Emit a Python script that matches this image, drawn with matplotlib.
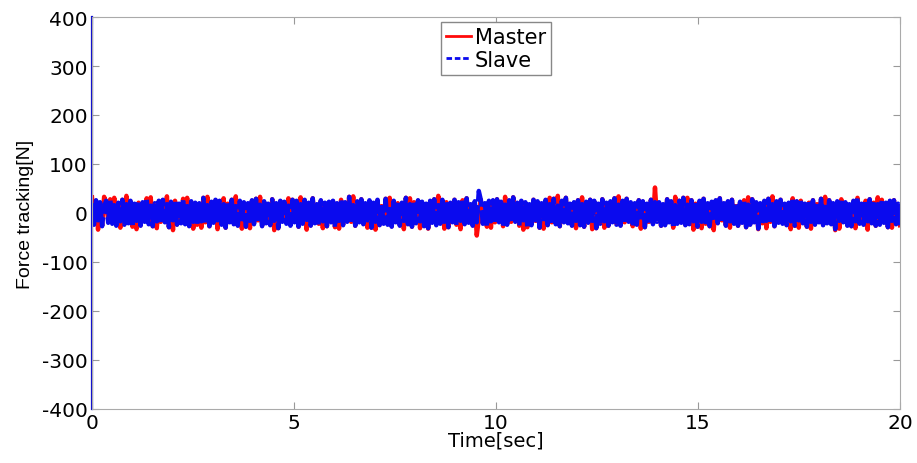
import numpy as np
import matplotlib
matplotlib.use('Agg')
from matplotlib import pyplot as plt

plt.rcParams['font.family'] = ['DejaVu Sans']
plt.rcParams['axes.unicode_minus'] = False

# Master force (N), sampled uniformly over 0..20 s
master = [
  32, -21, 25, -34, 17, -26, 33, 22, -15, 28, -19, 31, -24, 18, -30, 27, -22, 35, -17, 24,
  -28, 14, -33, 21, -25, 19, -13, 30, -20, 32, -27, 16, -31, 23, -18, 26, -14, 34, -29, 20,
  -35, 25, -23, 13, -16, 29, -21, 31, -26, 22, -32, 18, -24, 15, -30, 31, -19, 33, -27, 21,
  -17, 26, -33, 24, -22, 30, -30, 19, -14, 27, -20, 34, -25, 23, -32, 20, -28, 16, -31, 25,
  -21, 29, -15, 33, -26, 22, -18, 14, -23, 28, -35, 17, -31, 24, -13, 21, -19, 30, -24, 27,
  -16, 23, -28, 32, -20, 26, -34, 19, -25, 30, -17, 13, -22, 25, -31, 18, -27, 21, -14, 24,
  -29, 15, -32, 27, -23, 20, -12, 33, -18, 34, -26, 22, -15, 28, -21, 16, -30, 24, -30, 19,
  -34, 26, -24, 14, -19, 29, -22, 31, -27, 23, -13, 20, -25, 17, -33, 31, -20, 30, -28, 22,
  -18, 25, -31, 21, -26, 15, -32, 24, -16, 28, -23, 35, -19, 26, -32, 22, -29, 18, -14, 27,
  -24, 19, -33, 26, -21, 30, -17, 13, -25, 22, -46, -12, 27, -20, 16, -28, 23, -30, 25, -19,
  28, -15, 21, -27, 33, -22, 25, -18, 32, -13, 19, -26, 24, -34, 20, -29, 14, -23, 27, -16,
  22, -30, 17, -32, 26, -24, 31, -19, 29, -21, 35, -27, 23, -14, 31, -18, 15, -25, 20, -31,
  26, -23, 32, -28, 21, -17, 27, -33, 24, -31, 16, -20, 28, -30, 19, -26, 22, -15, 30, -22,
  34, -25, 24, -19, 29, -14, 20, -27, 17, -22, 26, -32, 23, -29, 15, -18, 27, -21, 52, -13,
  20, -26, 14, -23, 28, -16, 22, -30, 33, -20, 25, -17, 31, -24, 31, -21, 26, -34, 19, -28,
  24, -31, 29, -22, 16, -27, 21, -35, 25, -19, 30, -15, 18, -25, 23, -30, 27, -20, 14, -26,
  21, -17, 26, -29, 32, -23, 28, -14, 20, -33, 17, -21, 24, -31, 29, -18, 34, -27, 22, -16,
  27, -20, 15, -24, 19, -33, 30, -26, 23, -30, 25, -19, 16, -28, 21, -32, 26, -22, 18, -15,
  29, -24, 33, -18, 26, -21, 17, -35, 22, -32, 28, -16, 20, -25, 14, -27, 24, -31, 31, -20,
  16, -23, 25, -34, 28, -19, 21, -26, 32, -22, 27, -17, 19, -29, 24, -30, 26, -21, 15, -25,
]

# Slave force (N), same sampling
slave = [
  19, -24, 26, -15, 22, -27, 14, 25, -20, 28, -22, 16, -26, 21, -17, 27, -24, 18, -21, 25,
  -28, 19, -16, 24, -26, 22, -18, 30, -23, 15, -27, 20, -17, 25, -21, 27, -19, 18, -29, 23,
  -15, 26, -24, 19, -21, 29, -23, 14, -27, 24, -18, 21, -25, 20, -17, 31, -22, 16, -27, 23,
  -20, 27, -15, 25, -24, 18, -30, 22, -19, 27, -23, 14, -26, 25, -18, 22, -28, 20, -16, 26,
  -23, 29, -19, 17, -27, 24, -21, 19, -25, 28, -16, 20, -31, 25, -18, 23, -22, 15, -26, 27,
  -19, 25, -28, 18, -22, 27, -14, 21, -26, 30, -21, 18, -24, 26, -17, 21, -27, 23, -19, 25,
  -29, 20, -16, 27, -25, 22, -18, 33, -21, 16, -26, 24, -19, 28, -23, 20, -15, 26, -30, 21,
  -18, 27, -25, 19, -22, 29, -24, 15, -28, 25, -19, 22, -26, 21, -16, 31, -23, 18, -28, 24,
  -21, 26, -17, 23, -27, 19, -31, 25, -20, 28, -25, 16, -22, 27, -18, 24, -29, 21, -19, 27,
  -25, 22, -16, 27, -23, 30, -20, 18, -26, 24, -19, 45, 27, -22, 20, -28, 25, -17, 26, -21,
  28, -19, 23, -27, 17, -24, 26, -20, 32, -18, 21, -26, 25, -15, 22, -29, 18, -25, 27, -20,
  24, -30, 20, -17, 27, -25, 18, -21, 29, -23, 15, -27, 25, -19, 31, -21, 19, -26, 22, -16,
  26, -25, 18, -28, 23, -20, 27, -16, 25, -31, 19, -22, 28, -17, 21, -26, 24, -19, 30, -24,
  17, -26, 25, -21, 29, -18, 22, -27, 20, -24, 26, -16, 24, -29, 19, -21, 27, -23, 22, -18,
  22, -26, 18, -25, 28, -19, 24, -30, 16, -22, 25, -20, 31, -25, 17, -23, 26, -17, 21, -28,
  25, -18, 29, -24, 20, -27, 23, -15, 26, -21, 30, -19, 20, -26, 24, -17, 27, -22, 18, -26,
  23, -20, 26, -29, 17, -24, 28, -19, 22, -32, 20, -23, 25, -16, 29, -21, 18, -27, 24, -20,
  27, -22, 19, -25, 21, -17, 30, -26, 24, -15, 26, -21, 19, -28, 23, -18, 26, -24, 20, -19,
  29, -25, 17, -21, 26, -23, 20, -33, 24, -16, 28, -19, 22, -26, 18, -27, 25, -17, 31, -22,
  19, -24, 26, -17, 28, -21, 23, -26, 18, -24, 27, -20, 21, -29, 25, -16, 26, -23, 19, -25,
]

# Slave initial transient at t = 0 (N)
slave_transient = [400, -400]

t_end = 20
t_master = np.linspace(0, t_end, len(master))
t_slave = np.linspace(0, t_end, len(slave))

fig = plt.figure(figsize=(9.17, 4.64), dpi=100)
ax = fig.add_axes([0.1003, 0.1164, 0.8812, 0.8448])

ax.plot(t_master, master, color='#ff0a0a', lw=3.2, label='Master')
ax.plot(t_slave, slave, color='#0a0aee', lw=3.2, ls=(0, (6, 0.8)), label='Slave')
ax.plot([0] * len(slave_transient), slave_transient, color='#0a0ad0', lw=1.6, clip_on=False)

ax.set_xlim(0, 20)
ax.set_ylim(-400, 400)
ax.set_xticks([0, 5, 10, 15, 20])
ax.set_yticks(range(-400, 401, 100))
ax.tick_params(direction='in', top=True, right=True, labelsize=14.5, length=5, color='#999999', pad=3)
for s in ax.spines.values():
  s.set_color('#aaaaaa')
ax.set_xlabel('Time[sec]', fontsize=14, labelpad=-1)
ax.set_ylabel('Force tracking[N]', fontsize=14, labelpad=6, family='Liberation Sans')

leg = ax.legend(loc='upper center', bbox_to_anchor=(0.5, 1.0), borderaxespad=0.25, fontsize=15,
                handlelength=1.2, handletextpad=0.15, borderpad=0.25, labelspacing=0.1,
                fancybox=False, framealpha=1)
leg.get_frame().set_edgecolor('#888888')
for h in leg.get_lines():
  h.set_linewidth(2)
leg.get_lines()[1].set_linestyle((0, (2, 1)))

plt.savefig('out.png', dpi=100)
